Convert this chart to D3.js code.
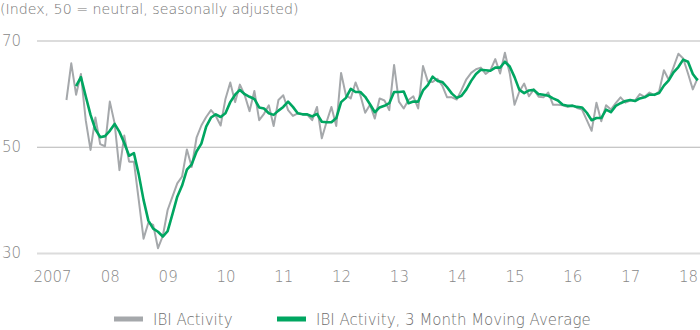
<!DOCTYPE html>
<html>
<head>
<meta charset="utf-8">
<script src="https://cdn.jsdelivr.net/npm/d3@7"></script>
<style>
  html, body { margin: 0; padding: 0; background: #fff; }
  svg { display: block; }
  text { font-family: "DejaVu Sans", sans-serif; font-weight: 300; }
</style>
</head>
<body>
<svg id="chart" width="700" height="330"></svg>
<script>
// ---- Data (monthly, first value = April 2007, last = March 2018) ----
const firstMonthIndex = 3; // months after Jan 2007
const ibiActivity = [
  58.8, 65.7, 59.8, 63.7, 55.0, 49.4, 55.5, 50.5, 50.1,
  58.5, 54.4, 45.6, 52.1, 47.2, 47.2, 40.0, 32.7, 35.7, 35.3, 30.9, 33.2,
  38.1, 40.6, 43.1, 44.4, 49.5, 46.2, 51.7, 54.0, 55.6, 56.9, 55.8, 54.0,
  59.0, 62.1, 58.4, 61.7, 59.7, 56.7, 60.5, 55.0, 56.2, 57.8, 53.9, 58.8,
  59.7, 56.9, 55.8, 56.3, 56.1, 56.0, 55.0, 57.5, 51.6, 54.7, 57.5, 53.9,
  63.9, 59.7, 59.1, 62.1, 59.7, 56.4, 57.9, 55.3, 59.1, 58.7, 56.9, 65.4,
  58.5, 57.2, 58.8, 59.5, 57.2, 65.2, 62.3, 62.2, 62.8, 61.5, 59.3, 59.3,
  58.9, 60.7, 62.7, 63.9, 64.6, 64.9, 63.7, 64.4, 66.5, 63.8, 67.7, 63.8,
  57.9, 60.4, 61.9, 59.5, 60.8, 59.4, 59.3, 60.2, 57.9, 57.9, 57.8, 57.5,
  57.8, 57.3, 57.0, 55.0, 53.0, 58.3, 54.8, 57.8, 57.0, 58.2, 59.3, 58.3,
  58.7, 58.7, 59.9, 59.4, 60.2, 59.7, 60.4, 64.4, 62.6, 65.0, 67.5, 66.6,
  63.8, 60.8, 62.9
];
// 3-month moving average, first value = June 2007
const maFirstMonthIndex = 5;
const ibiMovingAvg = [
  61.4, 63.1, 59.5, 56.0, 53.3, 51.8, 52.0,
  53.0, 54.3, 52.8, 50.7, 48.3, 48.8, 44.8, 40.0, 36.1, 34.6, 34.0, 33.1,
  34.1, 37.3, 40.6, 42.7, 45.7, 46.7, 49.1, 50.6, 53.8, 55.5, 56.1, 55.6,
  56.3, 58.4, 59.8, 60.7, 59.9, 59.4, 59.0, 57.4, 57.2, 56.3, 56.0, 56.8,
  57.5, 58.5, 57.5, 56.3, 56.1, 56.1, 55.7, 56.2, 54.7, 54.6, 54.6, 55.4,
  58.4, 59.2, 60.9, 60.3, 60.3, 59.4, 58.0, 56.5, 57.4, 57.7, 58.2, 60.3,
  60.3, 60.4, 58.2, 58.5, 58.5, 60.6, 61.6, 63.2, 62.4, 62.2, 61.2, 60.0,
  59.2, 59.6, 60.8, 62.4, 63.7, 64.5, 64.4, 64.3, 64.9, 64.9, 66.0, 65.1,
  63.1, 60.7, 60.1, 60.6, 60.7, 59.9, 59.8, 59.6, 59.1, 58.7, 57.9, 57.7,
  57.7, 57.5, 57.4, 56.4, 55.0, 55.4, 55.4, 57.0, 56.5, 57.7, 58.2, 58.6,
  58.8, 58.6, 59.1, 59.3, 59.8, 59.8, 60.1, 61.5, 62.5, 64.0, 65.0, 66.4,
  66.0, 63.7, 62.5
];
const yearTickLabels = ["2007", "08", "09", "10", "11", "12", "13", "14", "15", "16", "17", "18"];
const yTicks = [30, 50, 70];
const title = "(Index, 50 = neutral, seasonally adjusted)";
const legendLabels = ["IBI Activity", "IBI Activity, 3 Month Moving Average"];

// ---- Chart ----
const svg = d3.select("#chart");
const colors = { gray: "#a5a8ab", green: "#00a661" };

const x = d3.scaleLinear().domain([0, 132]).range([52, 688]);
const y = d3.scaleLinear().domain([30, 70]).range([253, 40.5]);

// title
svg.append("text").attr("x", 0).attr("y", 14)
  .attr("fill", "#777").attr("font-size", 14.2).text(title);

// y axis + gridlines
const yAxis = svg.append("g").attr("transform", "translate(37,0)")
  .call(d3.axisLeft(y).tickValues(yTicks).tickSize(-663).tickPadding(16));
yAxis.select(".domain").remove();
yAxis.selectAll(".tick line")
  .attr("stroke", d => d === 50 ? "#b4b4b4" : "#dcdcdc")
  .attr("stroke-width", d => d === 50 ? 1.2 : 2);
yAxis.selectAll(".tick text")
  .attr("fill", "#888").attr("font-size", 15)
  .style("font-family", "'DejaVu Sans', sans-serif").style("font-weight", 300);

// x axis
const xAxis = svg.append("g").attr("transform", "translate(0,267)")
  .call(d3.axisBottom(x)
    .tickValues(d3.range(0, 133, 12))
    .tickSize(0).tickPadding(4)
    .tickFormat((d, i) => yearTickLabels[i]));
xAxis.select(".domain").remove();
xAxis.selectAll(".tick text")
  .attr("fill", "#888").attr("font-size", 15)
  .style("font-family", "'DejaVu Sans', sans-serif").style("font-weight", 300);

// lines
const grayLine = d3.line()
  .x((d, i) => x(firstMonthIndex + i))
  .y(d => y(d));
const maLine = d3.line()
  .x((d, i) => x(maFirstMonthIndex + i))
  .y(d => y(d));

svg.append("path").datum(ibiActivity)
  .attr("fill", "none").attr("stroke", colors.gray)
  .attr("stroke-width", 2).attr("stroke-linejoin", "round")
  .attr("d", grayLine);
svg.append("path").datum(ibiMovingAvg)
  .attr("fill", "none").attr("stroke", colors.green)
  .attr("stroke-width", 2.6).attr("stroke-linejoin", "round")
  .attr("d", maLine);

// legend
const legendItems = [
  { label: legendLabels[0], color: colors.gray, x: 114 },
  { label: legendLabels[1], color: colors.green, x: 277 }
];
const lg = svg.append("g");
legendItems.forEach(it => {
  lg.append("rect").attr("x", it.x).attr("y", 316.5)
    .attr("width", 29).attr("height", 5).attr("fill", it.color);
  lg.append("text").attr("x", it.x + 39).attr("y", 324.5)
    .attr("fill", "#6e6e6e").attr("font-size", 15).text(it.label);
});
</script>
</body>
</html>
